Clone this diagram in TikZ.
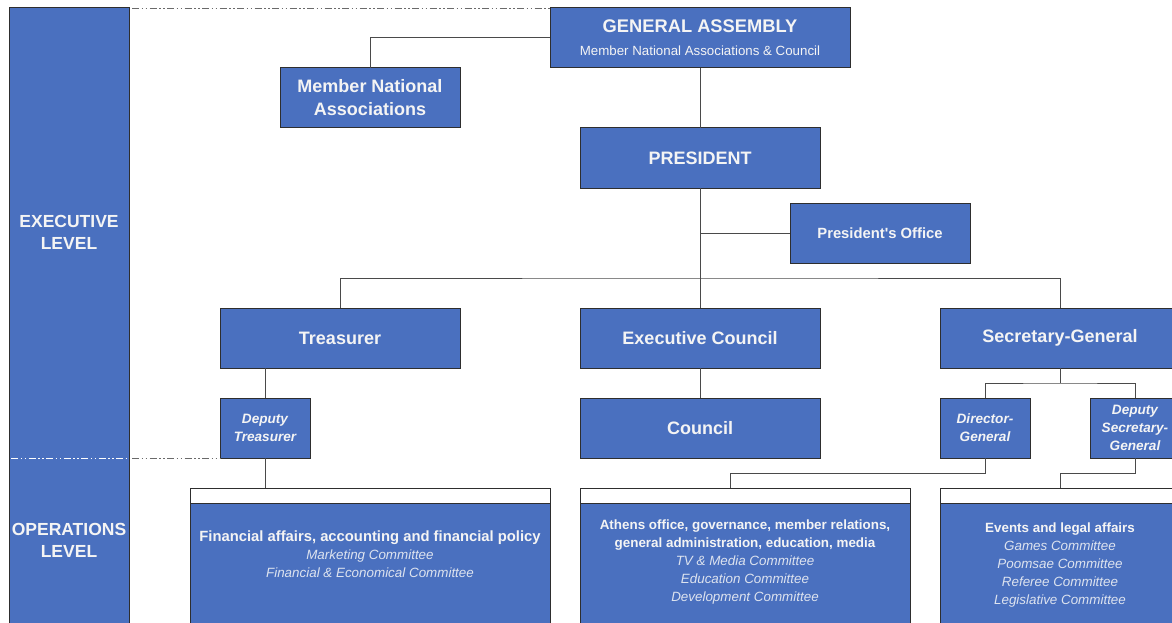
\documentclass[tikz,border=0pt]{standalone}
\usepackage{fontspec}
\setmainfont{Liberation Sans}
\definecolor{boxblue}{HTML}{4A70BF}
\definecolor{edgec}{HTML}{2E2E2E}
\definecolor{connc}{HTML}{4A4A4A}
\definecolor{dashc}{HTML}{6A6A6A}
\definecolor{txt}{HTML}{F4F4F4}
\definecolor{itxt}{HTML}{DDE3EF}
\newcommand\myfs[2]{\fontsize{#1}{#2}\selectfont}
\tikzset{
  box/.style={draw=edgec, fill=boxblue, line width=1pt, inner sep=0pt, outer sep=0pt,
    anchor=north west, text=txt, align=center, font=\bfseries\myfs{18}{23}},
  hdr/.style={draw=edgec, fill=white, line width=1pt, inner sep=0pt, outer sep=0pt,
    anchor=north west, minimum height=15},
  conn/.style={draw=connc, line width=1pt},
  dashdot/.style={line width=0.9pt, dash pattern=on 7pt off 2.5pt on 1.5pt off 2.5pt on 1.5pt off 2.5pt},
  lvl/.style={text=txt, align=center, font=\bfseries\myfs{17.5}{22}},
  optext/.style={text=txt, align=center, anchor=north, inner sep=0pt, font=\myfs{13.4}{18}},
  dbox/.style={box, minimum width=90, minimum height=60, font=\bfseries\itshape\myfs{13.6}{18}}
}
\begin{document}
\begin{tikzpicture}[x=1pt,y=-1pt]
\clip (0,0) rectangle (1172,623);
\fill[white] (0,0) rectangle (1172,623);

% left column
\node[box, minimum width=120, minimum height=630] (col) at (9,8) {};
\node[lvl] (exe) at (69,232) {EXECUTIVE\\LEVEL};
\node[lvl] (opl) at (69,540) {OPERATIONS\\LEVEL};

% boxes
\node[box, minimum width=300, minimum height=60] (ga) at (550,8)
  {\myfs{18.3}{21}GENERAL ASSEMBLY\\[0pt]{\mdseries\myfs{13.3}{15}Member National Associations \& Council}};
\node[box, minimum width=180, minimum height=60] (mna) at (280,68) {Member National\\Associations};
\node[box, minimum width=240, minimum height=60] (pres) at (580,128) {PRESIDENT};
\node[box, minimum width=180, minimum height=60, font=\bfseries\myfs{14.8}{18}] (po) at (790,203) {President\textquotesingle s Office};
\node[box, minimum width=240, minimum height=60] (tre) at (220,308) {Treasurer};
\node[box, minimum width=240, minimum height=60] (ec) at (580,308) {Executive Council};
\node[box, minimum width=240, minimum height=60] (sg) at (940,308) {Secretary-General};
\node[dbox] (dt) at (220,398) {Deputy\\Treasurer};
\node[box, minimum width=240, minimum height=60] (cou) at (580,398) {Council};
\node[dbox] (dg) at (940,398) {Director-\\General};
\node[dbox] (dsg) at (1090,398) {Deputy\\Secretary-\\General};

% operations boxes
\node[hdr, minimum width=360] (h1) at (190,488) {};
\node[box, minimum width=360, minimum height=130] (b1) at (190,503) {};
\node[hdr, minimum width=330] (h2) at (580,488) {};
\node[box, minimum width=330, minimum height=130] (b2) at (580,503) {};
\node[hdr, minimum width=240] (h3) at (940,488) {};
\node[box, minimum width=240, minimum height=130] (b3) at (940,503) {};

\node[optext] (t1) at (370,531) {{\bfseries\myfs{14.8}{18}Financial affairs, accounting and financial policy}\\
  \color{itxt}\itshape Marketing Committee\\ \color{itxt}\itshape Financial \& Economical Committee};
\node[optext] (t2) at (745,520) {{\bfseries Athens office, governance, member relations,}\\
  {\bfseries general administration, education, media}\\
  \color{itxt}\itshape TV \& Media Committee\\ \color{itxt}\itshape Education Committee\\ \color{itxt}\itshape Development Committee};
\node[optext] (t3) at (1060,523) {{\bfseries Events and legal affairs}\\
  \color{itxt}\itshape Games Committee\\ \color{itxt}\itshape Poomsae Committee\\ \color{itxt}\itshape Referee Committee\\ \color{itxt}\itshape Legislative Committee};

% connectors
\draw[conn] (ga.west) -| (mna.north);
\draw[conn] (ga.south) -- (pres.north);
\draw[conn] (pres.south) -- (ec.north);
\draw[conn] (po.west) -- (pres.south |- po.west);
\coordinate (hbar) at (700,278);
\draw[conn] (tre.north) |- (hbar) -| (sg.north);
\draw[conn] (dt.north |- tre.south) -- (dt.north);
\draw[conn] (dt.south) -- (dt.south |- h1.north);
\draw[conn] (ec.south) -- (cou.north);
\coordinate (sgbar) at (1060,383);
\draw[conn] (sg.south) -- (sgbar);
\draw[conn] (dg.north) |- (sgbar) -| (dsg.north);
\coordinate (dgbar) at (985,473);
\draw[conn] (dg.south) -- (dgbar) -| ([xshift=-15pt]h2.north);
\coordinate (dsgbar) at (1135,473);
\draw[conn] (dsg.south) -- (dsgbar) -| (h3.north);

% level separators
\coordinate (lvl) at (11,458);
\draw[dashdot, white] (lvl) -- (col.east |- lvl);
\draw[dashdot, dashc] ([xshift=3pt]col.east |- lvl) -- (dt.south west);
\draw[dashdot, dashc] ([xshift=3pt]col.north east) -- (ga.north west);
\end{tikzpicture}
\end{document}
